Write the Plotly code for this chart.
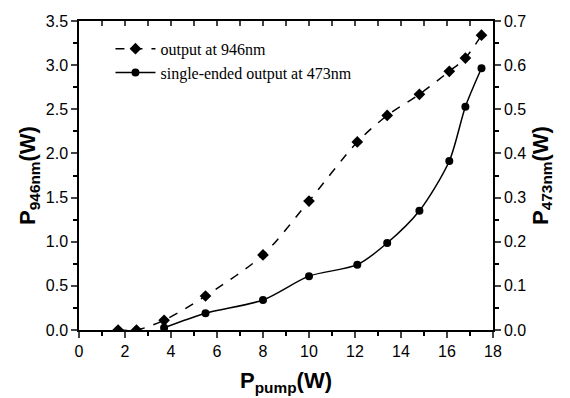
import plotly.graph_objects as go

# data
pump_946 = [1.7, 2.5, 3.7, 5.5, 8.0, 10.0, 12.1, 13.4, 14.8, 16.1, 16.8, 17.5]
p946 = [0.0, 0.0, 0.11, 0.385, 0.85, 1.46, 2.13, 2.43, 2.67, 2.93, 3.08, 3.34]
pump_473 = [3.7, 5.5, 8.0, 10.0, 12.1, 13.4, 14.8, 16.1, 16.8, 17.5]
p473 = [0.005, 0.038, 0.068, 0.122, 0.148, 0.197, 0.27, 0.383, 0.506, 0.593]

name946 = "output at 946nm"
name473 = "single-ended output at 473nm"

fig = go.Figure()
fig.add_trace(go.Scatter(
    x=pump_946, y=p946, name=name946, mode="lines+markers",
    line=dict(color="black", width=1.5, dash="dash", shape="spline", smoothing=0.8),
    marker=dict(symbol="diamond", size=9, color="black"),
))
fig.add_trace(go.Scatter(
    x=pump_473, y=p473, name=name473, mode="lines+markers", yaxis="y2",
    line=dict(color="black", width=1.5, shape="spline", smoothing=0.8),
    marker=dict(symbol="circle", size=8, color="black"),
))

tickfont = dict(family="Liberation Sans, Arial, sans-serif", size=16, color="black")
titlefont = dict(family="Liberation Sans, Arial, sans-serif", size=22, color="black")

fig.update_layout(
    width=562, height=390,
    margin=dict(l=71, r=77, t=13, b=68),
    paper_bgcolor="white", plot_bgcolor="white",
    showlegend=True,
    legend=dict(x=0.076, y=0.965, xanchor="left", yanchor="top",
                bgcolor="rgba(0,0,0,0)",
                font=dict(family="Liberation Serif, Times New Roman, serif", size=16, color="black"),
                tracegroupgap=0, itemwidth=40),
    xaxis=dict(range=[0, 18], dtick=2, tick0=0, ticks="outside", ticklen=6, tickwidth=1.5,
               showline=True, linecolor="black", linewidth=1.5, showgrid=False, zeroline=False,
               tickfont=tickfont, automargin=False,
               minor=dict(dtick=1, ticks="outside", ticklen=4, tickwidth=1.5, tickcolor="black"),
               title=dict(text="<b>P<sub>pump</sub>(W)</b>", font=titlefont, standoff=14)),
    xaxis2=dict(range=[0, 18], overlaying="x", side="top", dtick=1, ticks="inside", ticklen=5,
                tickwidth=1.5, showticklabels=False, showline=True, linecolor="black",
                linewidth=1.5, showgrid=False, zeroline=False, automargin=False),
    yaxis=dict(range=[0, 3.5], dtick=0.5, tickformat=".1f", ticks="outside", ticklen=6, tickwidth=1.5,
               showline=True, linecolor="black", linewidth=1.5, showgrid=False, zeroline=False,
               tickfont=tickfont, automargin=False,
               minor=dict(dtick=0.25, ticks="outside", ticklen=4, tickwidth=1.5, tickcolor="black"),
               title=dict(text="<b>P<sub>946nm</sub>(W)</b>", font=titlefont, standoff=4)),
    yaxis2=dict(range=[0, 0.7], dtick=0.1, tickformat=".1f", overlaying="y", side="right",
                ticks="outside", ticklen=6, tickwidth=1.5,
                showline=True, linecolor="black", linewidth=1.5, showgrid=False, zeroline=False,
                tickfont=tickfont, automargin=False,
                minor=dict(dtick=0.05, ticks="outside", ticklen=4, tickwidth=1.5, tickcolor="black"),
                title=dict(text="<b>P<sub>473nm</sub>(W)</b>", font=titlefont, standoff=7)),
)
# invisible trace to activate top axis
fig.add_trace(go.Scatter(x=[0], y=[0], xaxis="x2", mode="markers",
                         marker=dict(opacity=0), showlegend=False, hoverinfo="skip"))

fig.write_html("out.html")
